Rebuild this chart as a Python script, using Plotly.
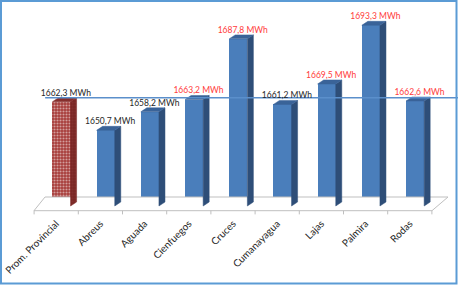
import plotly.graph_objects as go

categories = ["Prom. Provincial", "Abreus", "Aguada", "Cienfuegos", "Cruces",
              "Cumanayagua", "Lajas", "Palmira", "Rodas"]
values = [1662.3, 1650.7, 1658.2, 1663.2, 1687.8, 1661.2, 1669.5, 1693.3, 1662.6]
labels = ["1662,3 MWh", "1650,7 MWh", "1658,2 MWh", "1663,2 MWh", "1687,8 MWh",
          "1661,2 MWh", "1669,5 MWh", "1693,3 MWh", "1662,6 MWh"]
average = values[0]
base = 1620.0

W, H = 458, 285
L, R, T, B = 20, 0, 5, 70
xr = [-0.819, 9.0905]
yr = [1616.35, 1701.54]
pw, ph = W - L - R, H - T - B

# 3D geometry (data units)
off = 0.12      # front face shift
bw = 0.41       # front face width
dx = 0.136      # side depth (x)
dy = 1.62       # side depth (y)

fig = go.Figure()

# floor
fl_front, fl_back = 1618.1, 1623.65
fig.add_trace(go.Scatter(
    x=[-0.502, 8.502, 8.864, -0.253, -0.502],
    y=[fl_front, fl_front, fl_back, fl_back, fl_front],
    mode="lines", fill="toself", fillcolor="white",
    line=dict(color="#BFBFBF", width=1), hoverinfo="skip", showlegend=False))
tx, ty = [], []
for k in range(len(categories) + 1):
    tx += [k - 0.5, k - 0.5, None]
    ty += [fl_front, fl_front - 1.5, None]
fig.add_trace(go.Scatter(x=tx, y=ty, mode="lines",
                         line=dict(color="#BFBFBF", width=1),
                         hoverinfo="skip", showlegend=False))

front_cols = []
for i, v in enumerate(values):
    if i == 0:
        fc, sc, tc = "#A63C3A", "#7A2725", "#862E2C"
        pat = dict(shape=".", fgcolor="#8C3A37", size=3, solidity=0.4)
    else:
        fc, sc, tc = "#4A7EBB", "#2E4E78", "#3A6398"
        pat = None
    front_cols.append(fc)
    xl = i + off - bw / 2
    xrr = i + off + bw / 2
    # side face
    side = dict(
        x=[xrr, xrr + dx, xrr + dx, xrr, xrr],
        y=[base, base + dy, v + dy, v, base],
        mode="lines", fill="toself", fillcolor=sc,
        line=dict(color=sc, width=0.5), hoverinfo="skip", showlegend=False)
    if pat:
        side["fillpattern"] = pat
    fig.add_trace(go.Scatter(**side))
    # top face
    fig.add_trace(go.Scatter(
        x=[xl, xrr, xrr + dx, xl + dx, xl],
        y=[v, v, v + dy, v + dy, v],
        mode="lines", fill="toself", fillcolor=tc,
        line=dict(color=tc, width=0.5), hoverinfo="skip", showlegend=False))

# front faces
fig.add_trace(go.Bar(
    x=[i + off for i in range(len(values))],
    y=[v - base for v in values], base=base, width=bw,
    marker=dict(color=front_cols, line=dict(width=0),
                pattern=dict(shape=["."] + [""] * (len(values) - 1),
                             fgcolor="#BA5652", size=3, solidity=0.4)),
    hoverinfo="skip", showlegend=False))

# average line
fig.add_trace(go.Scatter(x=[-0.25, 9.09], y=[average + dy, average + dy],
                         mode="lines", line=dict(color="#5B8FCB", width=1.5),
                         hoverinfo="skip", showlegend=False))

# value labels
lab_cols = ["#FF3B3B" if v > average else "#262626" for v in values]
fig.add_trace(go.Scatter(
    x=[i + off + 0.1 for i in range(len(values))],
    y=[v + dy for v in values],
    mode="text", text=labels, textposition="top center",
    textfont=dict(family="Lato, Carlito, sans-serif", size=8.5, color=lab_cols),
    cliponaxis=False, hoverinfo="skip", showlegend=False))

fig.update_layout(
    width=W, height=H,
    margin=dict(l=L, r=R, t=T, b=B, autoexpand=False),
    paper_bgcolor="white", plot_bgcolor="white",
    bargap=0,
    xaxis=dict(range=xr, tickmode="array", tickvals=list(range(len(categories))),
               ticktext=categories, tickangle=-45, showgrid=False, zeroline=False,
               showline=False, ticks="", automargin=False,
               tickfont=dict(family="Lato, Carlito, sans-serif", size=10, color="#262626")),
    yaxis=dict(range=yr, visible=False, showgrid=False, zeroline=False, automargin=False),
    shapes=[dict(type="rect", xref="paper", yref="paper",
                 x0=(1 - L) / pw, x1=(456.5 - L) / pw,
                 y0=(T + ph - 283.5) / ph, y1=(T + ph - 1) / ph,
                 line=dict(color="#5B9BD5", width=2), fillcolor="rgba(0,0,0,0)")],
)

fig.write_html("out.html", config={"displayModeBar": False},
               post_script="document.body.style.margin='0';document.body.style.overflow='hidden';")
